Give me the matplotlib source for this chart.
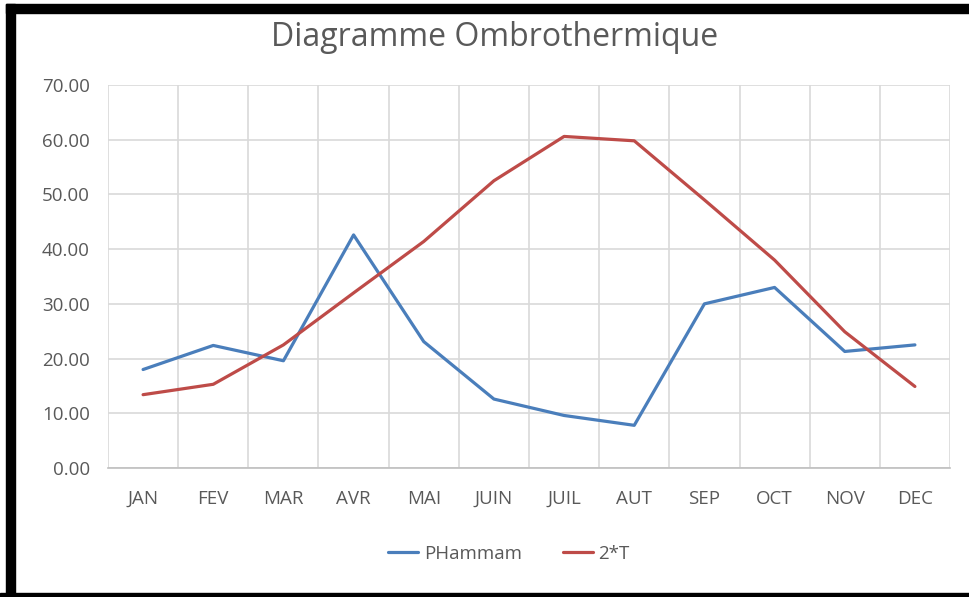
import numpy as np
import matplotlib
matplotlib.use("Agg")
import matplotlib.pyplot as plt
from matplotlib.patches import Rectangle

# Donnees
mois = ["JAN", "FEV", "MAR", "AVR", "MAI", "JUIN", "JUIL", "AUT", "SEP", "OCT", "NOV", "DEC"]
p_hammam = [18.0, 22.4, 19.6, 42.6, 23.1, 12.6, 9.6, 7.8, 30.0, 33.0, 21.3, 22.5]
deux_t = [13.4, 15.3, 22.5, 32.0, 41.4, 52.5, 60.6, 59.8, 49.0, 38.0, 24.9, 14.9]
yticks = [0, 10, 20, 30, 40, 50, 60, 70]

plt.rcParams['font.family'] = ['Open Sans', 'DejaVu Sans']

fig = plt.figure(figsize=(9.70, 5.97), dpi=100)
ax = fig.add_axes([108/970, 1 - 468/597, (950 - 108)/970, (468 - 85)/597])

x = np.arange(len(mois))
ax.plot(x, p_hammam, color='#4A7EBB', lw=2.3, label='PHammam', solid_capstyle='round')
ax.plot(x, deux_t, color='#BE4B48', lw=2.3, label='2*T', solid_capstyle='round')

ax.set_xlim(-0.5, len(mois) - 0.5)
ax.set_ylim(0, 70)
ax.set_yticks(yticks)
ax.set_yticklabels([f"{v:.2f}" for v in yticks])
ax.set_xticks(x)
ax.set_xticklabels(mois)
ax.set_xticks(np.arange(-0.5, len(mois)), minor=True)

ax.grid(True, which='major', axis='y', color='#D9D9D9', lw=1.2)
ax.grid(True, which='minor', axis='x', color='#D9D9D9', lw=1.2)
ax.set_axisbelow(True)
for s in ['top', 'right', 'left']:
    ax.spines[s].set_visible(False)
ax.spines['bottom'].set_color('#BFBFBF')
ax.spines['bottom'].set_linewidth(1.2)
ax.tick_params(axis='both', which='both', length=0, colors='#595959', labelsize=13.5)
ax.tick_params(axis='x', pad=16)
ax.tick_params(axis='y', pad=13)

fig.text(495/970, 1 - 38/597, "Diagramme Ombrothermique", ha='center', va='center',
         fontsize=23, color='#595959')

leg = fig.legend(loc='center', bbox_to_anchor=(509/970, 1 - 554/597), ncol=2,
                 frameon=False, fontsize=13.5, handlelength=1.6, columnspacing=2.2,
                 handletextpad=0.3)
for t in leg.get_texts():
    t.set_color('#595959')

# Cadre noir autour de la capture
fig.patches.append(Rectangle((6/970, 3/597), 9/970, 590/597, transform=fig.transFigure,
                             color='black', zorder=10))
fig.patches.append(Rectangle((6/970, 1 - 13/597), 964/970, 9/597, transform=fig.transFigure,
                             color='black', zorder=10))
fig.patches.append(Rectangle((0, 0), 1, 4/597, transform=fig.transFigure,
                             color='black', zorder=10))

fig.savefig("out.png", dpi=100)
